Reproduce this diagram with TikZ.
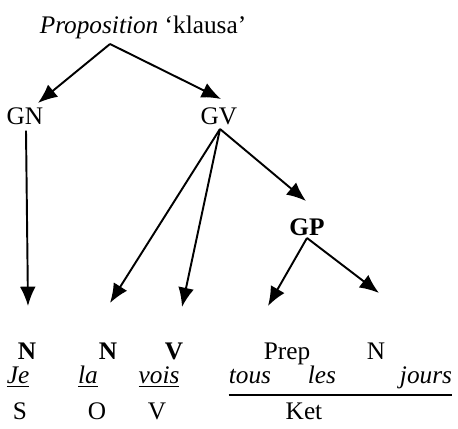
\documentclass[tikz,border=0pt]{standalone}
\usepackage{fontspec}
\setmainfont{Liberation Serif}
\usetikzlibrary{arrows.meta}

\tikzset{
    lbl/.style={inner sep=0pt, anchor=base, font=\fontsize{14.4}{17}\selectfont},
    branch/.style={line width=1.1pt, -{Latex[length=11pt, width=9pt]}}
}

\begin{document}
\begin{tikzpicture}[x=0.02cm, y=-0.02cm]
    \useasboundingbox (0,0) rectangle (458,429);
    % tree labels
    \node[lbl] (prop) at (143,34) {\textit{Proposition} `klausa'};
    \node[lbl] (gn) at (25,125) {GN};
    \node[lbl] (gv) at (219,125) {GV};
    \node[lbl] (gp) at (307,236) {\textbf{GP}};
    % branch points and arrow ends
    \coordinate (top) at (110,44);
    \coordinate (gvfoot) at (220,129);
    \coordinate (gpfoot) at (307,238);
    \coordinate (endje) at (28,306);
    \coordinate (endla) at (110,303);
    \coordinate (endvois) at (182,307);
    \coordinate (endprep) at (268,306);
    \coordinate (endn) at (379,293);
    \draw[branch] (top) -- (38,103);
    \draw[branch] (top) -- (221,99);
    \draw[branch] (gn.south) ++(1,5) -- (endje);
    \draw[branch] (gvfoot) -- (endla);
    \draw[branch] (gvfoot) -- (endvois);
    \draw[branch] (gvfoot) -- (306,201);
    \draw[branch] (gpfoot) -- (endprep);
    \draw[branch] (gpfoot) -- (endn);
    % categories
    \node[lbl] (c1) at (27,360) {\textbf{N}};
    \node[lbl] (c2) at (108,360) {\textbf{N}};
    \node[lbl] (c3) at (174,360) {\textbf{V}};
    \node[lbl] (c4) at (287,360) {Prep};
    \node[lbl] (c5) at (376,360) {N};
    % words
    \node[lbl] (je) at (18,384) {\underline{\textit{Je}}};
    \node[lbl] (la) at (88,384) {\underline{\textit{la}}};
    \node[lbl] (vois) at (159,384) {\underline{\textit{vois}}};
    \node[lbl] (tous) at (250,384) {\textit{tous}};
    \node[lbl] (les) at (322,384) {\textit{les}};
    \node[lbl] (jours) at (426,384) {\textit{jours}};
    \draw[line width=0.8pt] (tous.west |- 0,395) -- (jours.east |- 0,395);
    % functions
    \node[lbl] (f1) at (20,420) {S};
    \node[lbl] (f2) at (97,420) {O};
    \node[lbl] (f3) at (157,420) {V};
    \node[lbl] (f4) at (304,420) {Ket};
\end{tikzpicture}
\end{document}
